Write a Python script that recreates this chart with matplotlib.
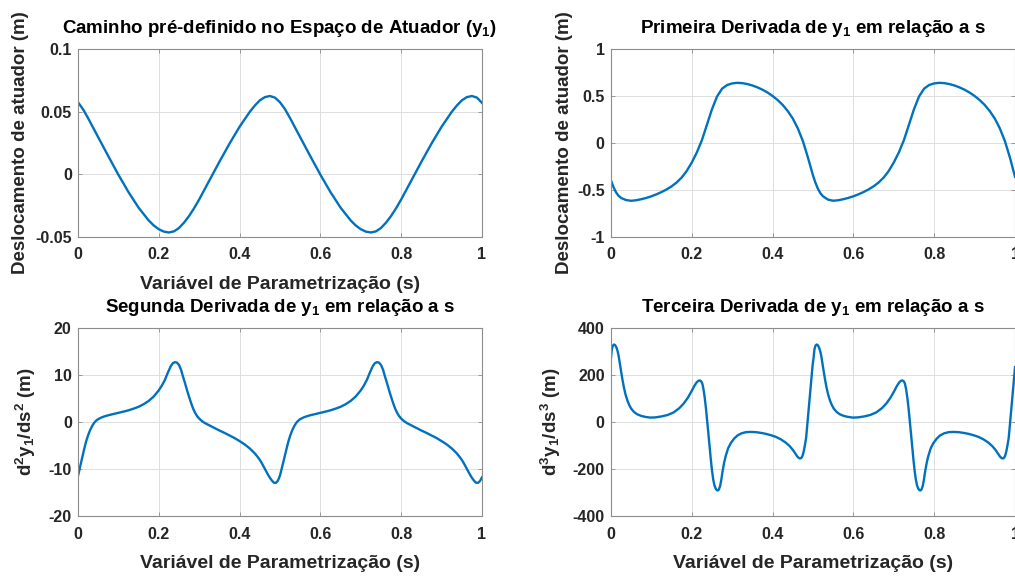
import matplotlib
matplotlib.use('Agg')
import matplotlib.pyplot as plt
from matplotlib.ticker import FormatStrFormatter


# valores (y1 e derivadas em funcao de s)
s_pos = [0, 0.0125, 0.025, 0.0375, 0.05, 0.075, 0.1, 0.125, 0.15, 0.175, 0.1875, 0.2, 0.2125,
         0.225, 0.2375, 0.25, 0.2625, 0.275, 0.2875, 0.3, 0.325, 0.35, 0.375, 0.4, 0.425, 0.4375,
         0.45, 0.4625, 0.475, 0.4875, 0.5,
         0.5125, 0.525, 0.5375, 0.55, 0.575, 0.6, 0.625, 0.65, 0.675, 0.6875, 0.7, 0.7125,
         0.725, 0.7375, 0.75, 0.7625, 0.775, 0.7875, 0.8, 0.825, 0.85, 0.875, 0.9, 0.925, 0.9375,
         0.95, 0.9625, 0.975, 0.9875, 1.0]
y_pos = [0.0575, 0.0519, 0.0448, 0.0372, 0.0296, 0.0145, -0.0003, -0.0142, -0.0266, -0.0368,
         -0.0408, -0.0438, -0.0457, -0.0464, -0.0455, -0.0428, -0.0385, -0.0332, -0.027, -0.020,
         -0.005, 0.010, 0.0245, 0.038, 0.0498, 0.0548, 0.059, 0.0616, 0.0625, 0.0612, 0.0575,
         0.0519, 0.0448, 0.0372, 0.0296, 0.0145, -0.0003, -0.0142, -0.0266, -0.0368, -0.0408,
         -0.0438, -0.0457, -0.0464, -0.0455, -0.0428, -0.0385, -0.0332, -0.027, -0.020, -0.005,
         0.010, 0.0245, 0.038, 0.0498, 0.0548, 0.059, 0.0616, 0.0625, 0.0612, 0.057]

s_vel = [0, 0.00625, 0.0125, 0.01875, 0.025, 0.0375, 0.05, 0.0625, 0.075, 0.0875, 0.1, 0.1125,
         0.125, 0.1375, 0.15, 0.1625, 0.175, 0.1875, 0.2, 0.2125, 0.225, 0.2375, 0.25, 0.2625,
         0.275, 0.2875, 0.3, 0.3125, 0.325, 0.3375, 0.35, 0.3625, 0.375, 0.3875, 0.4, 0.4125,
         0.425, 0.4375, 0.45, 0.4625, 0.475, 0.4875, 0.5,
         0.50625, 0.5125, 0.51875, 0.525, 0.5375, 0.55, 0.5625, 0.575, 0.5875, 0.6, 0.6125,
         0.625, 0.6375, 0.65, 0.6625, 0.675, 0.6875, 0.7, 0.7125, 0.725, 0.7375, 0.75, 0.7625,
         0.775, 0.7875, 0.8, 0.8125, 0.825, 0.8375, 0.85, 0.8625, 0.875, 0.8875, 0.9, 0.9125,
         0.925, 0.9375, 0.95, 0.9625, 0.975, 0.9875, 1.0]
y_vel = [-0.40, -0.47, -0.525, -0.562, -0.585, -0.607, -0.615, -0.609, -0.598, -0.584, -0.567,
         -0.546, -0.522, -0.494, -0.461, -0.42, -0.367, -0.297, -0.207, -0.10, 0.03, 0.195,
         0.36, 0.495, 0.578, 0.617, 0.634, 0.64, 0.637, 0.627, 0.612, 0.592, 0.567, 0.537,
         0.50, 0.457, 0.405, 0.34, 0.26, 0.155, 0.02, -0.155, -0.345,
         -0.425, -0.49, -0.537, -0.568, -0.603, -0.614, -0.609, -0.598, -0.584, -0.567, -0.546,
         -0.522, -0.494, -0.461, -0.42, -0.367, -0.297, -0.207, -0.10, 0.03, 0.195, 0.36, 0.495,
         0.578, 0.617, 0.634, 0.64, 0.637, 0.627, 0.612, 0.592, 0.567, 0.537, 0.50, 0.457,
         0.405, 0.34, 0.26, 0.155, 0.02, -0.155, -0.36]

s_acc = [0, 0.005, 0.01, 0.015, 0.02, 0.025, 0.03, 0.035, 0.04, 0.045, 0.05, 0.0575, 0.065,
         0.075, 0.0875, 0.1, 0.1125, 0.125, 0.1375, 0.15, 0.1625, 0.175, 0.1875, 0.2, 0.2075,
         0.215, 0.2225, 0.23, 0.235, 0.24, 0.245, 0.25, 0.255, 0.26, 0.265, 0.27, 0.275, 0.28,
         0.285, 0.29, 0.295, 0.3, 0.3075, 0.315, 0.325, 0.3375, 0.35, 0.3625, 0.375, 0.3875,
         0.4, 0.4125, 0.425, 0.4375, 0.445, 0.45, 0.455, 0.46, 0.465, 0.47, 0.475, 0.48, 0.485,
         0.49, 0.495, 0.5,
         0.505, 0.51, 0.515, 0.52, 0.525, 0.53, 0.535, 0.54, 0.545, 0.55, 0.5575, 0.565, 0.575,
         0.5875, 0.6, 0.6125, 0.625, 0.6375, 0.65, 0.6625, 0.675, 0.6875, 0.7, 0.7075, 0.715,
         0.7225, 0.73, 0.735, 0.74, 0.745, 0.75, 0.755, 0.76, 0.765, 0.77, 0.775, 0.78, 0.785,
         0.79, 0.795, 0.8, 0.8075, 0.815, 0.825, 0.8375, 0.85, 0.8625, 0.875, 0.8875, 0.9,
         0.9125, 0.925, 0.9375, 0.945, 0.95, 0.955, 0.96, 0.965, 0.97, 0.975, 0.98, 0.985, 0.99,
         0.995, 1.0]
y_acc = [-11.4, -9.5, -7.6, -5.8, -4.1, -2.75, -1.65, -0.8, -0.1, 0.35, 0.68, 1.0, 1.25, 1.5,
         1.75, 2.0, 2.27, 2.55, 2.9, 3.3, 3.85, 4.55, 5.5, 6.8, 7.8, 9.0, 10.6, 12.0, 12.6, 12.8,
         12.7, 12.2, 11.2, 9.7, 8.3, 6.8, 5.4, 4.1, 2.9, 2.0, 1.3, 0.8, 0.2, -0.2, -0.65, -1.2,
         -1.75, -2.25, -2.8, -3.35, -4.0, -4.7, -5.55, -6.6, -7.4, -8.0, -8.7, -9.5, -10.3,
         -11.1, -11.8, -12.4, -12.85, -12.9, -12.4, -11.3,
         -9.6, -7.8, -6.0, -4.3, -2.9, -1.75, -0.85, -0.15, 0.33, 0.68, 1.0, 1.25, 1.5, 1.75,
         2.0, 2.27, 2.55, 2.9, 3.3, 3.85, 4.55, 5.5, 6.8, 7.8, 9.0, 10.6, 12.0, 12.6, 12.8, 12.7,
         12.2, 11.2, 9.7, 8.3, 6.8, 5.4, 4.1, 2.9, 2.0, 1.3, 0.8, 0.2, -0.2, -0.65, -1.2, -1.75,
         -2.25, -2.8, -3.35, -4.0, -4.7, -5.55, -6.6, -7.4, -8.0, -8.7, -9.5, -10.3, -11.1,
         -11.8, -12.4, -12.85, -12.9, -12.5, -11.7]

s_jerk = [0, 0.002, 0.0045, 0.0075, 0.0105, 0.0135, 0.0165, 0.019, 0.0215, 0.0245,
          0.028, 0.032, 0.036, 0.0405, 0.045, 0.05, 0.057, 0.065, 0.075, 0.085,
          0.097, 0.11, 0.125, 0.14, 0.155, 0.169, 0.18, 0.19, 0.199, 0.206,
          0.212, 0.2165, 0.22, 0.223, 0.226, 0.229, 0.232, 0.235, 0.238, 0.241,
          0.244, 0.247, 0.25, 0.253, 0.256, 0.259, 0.262, 0.2645, 0.267, 0.27,
          0.273, 0.276, 0.28, 0.284, 0.29, 0.297, 0.305, 0.313, 0.323, 0.334,
          0.346, 0.359, 0.371, 0.383, 0.396, 0.408, 0.42, 0.433, 0.442, 0.45,
          0.456, 0.461, 0.465, 0.468, 0.471, 0.474, 0.477, 0.48, 0.483, 0.487,
          0.491, 0.495, 0.499,
          0.5015, 0.5035, 0.506, 0.509, 0.512, 0.515, 0.518, 0.5205, 0.523, 0.526,
          0.5295, 0.5335, 0.5375, 0.542, 0.5465, 0.5515, 0.5585, 0.5665, 0.5765, 0.5865,
          0.5985, 0.6115, 0.6265, 0.6415, 0.6565, 0.6705, 0.6815, 0.6915, 0.7005, 0.7075,
          0.7135, 0.718, 0.7215, 0.7245, 0.7275, 0.7305, 0.7335, 0.7365, 0.7395, 0.7425,
          0.7455, 0.7485, 0.7515, 0.7545, 0.7575, 0.7605, 0.7635, 0.766, 0.7685, 0.7715,
          0.7745, 0.7775, 0.7815, 0.7855, 0.7915, 0.7985, 0.8065, 0.8145, 0.8245, 0.8355,
          0.8475, 0.8605, 0.8725, 0.8845, 0.8975, 0.9095, 0.9215, 0.9345, 0.9435, 0.9515,
          0.9575, 0.9625, 0.9665, 0.9695, 0.9725, 0.9755, 0.9785, 0.9815, 0.9845, 0.9885,
          0.9925, 0.9965, 1.0]
y_jerk = [275, 310, 326, 331, 328, 318, 302, 282, 256, 222,
          185, 148, 118, 93, 74, 58, 44, 34, 27, 23,
          20, 21, 25, 31, 42, 60, 80, 104, 131, 154,
          170, 177, 178, 175, 165, 140, 105, 60, 8, -47,
          -103, -157, -205, -243, -268, -282, -289, -290, -286, -272,
          -245, -210, -172, -143, -110, -87, -69, -56, -47, -42,
          -41, -42, -45, -49, -55, -62, -72, -87, -101, -117,
          -132, -145, -152, -154, -152, -143, -124, -97, -66, 10,
          88, 165, 243,
          275, 310, 326, 331, 328, 318, 302, 282, 256, 222,
          185, 148, 118, 93, 74, 58, 44, 34, 27, 23,
          20, 21, 25, 31, 42, 60, 80, 104, 131, 154,
          170, 177, 178, 175, 165, 140, 105, 60, 8, -47,
          -103, -157, -205, -243, -268, -282, -289, -290, -286, -272,
          -245, -210, -172, -143, -110, -87, -69, -56, -47, -42,
          -41, -42, -45, -49, -55, -62, -72, -87, -101, -117,
          -132, -145, -152, -154, -152, -143, -124, -97, -66, 10,
          88, 165, 235]

x_ticks = [0, 0.2, 0.4, 0.6, 0.8, 1]
xlabel = 'Variável de Parametrização (s)'

plt.rcParams['font.family'] = ['Liberation Sans', 'DejaVu Sans']
plt.rcParams['font.weight'] = 'bold'
plt.rcParams['axes.unicode_minus'] = False
plt.rcParams['mathtext.fontset'] = 'custom'
plt.rcParams['mathtext.bf'] = 'Liberation Sans:bold'
plt.rcParams['mathtext.rm'] = 'Liberation Sans:bold'
plt.rcParams['mathtext.default'] = 'bf'

LINE = '#0072BD'
DARK = '#262626'
EDGE = '#8c8c8c'

fig = plt.figure(figsize=(10.15, 5.76), dpi=100)

W, H = 1015.0, 576.0
def add_axes(left, top):
    return fig.add_axes([left / W, 1 - (top + 188) / H, 404 / W, 188 / H])

panels = [
    (add_axes(78, 49), s_pos, y_pos, (-0.05, 0.1), [-0.05, 0, 0.05, 0.1],
     r'Caminho pré-definido no Espaço de Atuador (y$_1$)', 'Deslocamento de atuador (m)', -0.122),
    (add_axes(611, 49), s_vel, y_vel, (-1, 1), [-1, -0.5, 0, 0.5, 1],
     r'Primeira Derivada de y$_1$ em relação a s', 'Deslocamento de atuador (m)', -0.095),
    (add_axes(78, 328.3), s_acc, y_acc, (-20, 20), [-20, -10, 0, 10, 20],
     r'Segunda Derivada de y$_1$ em relação a s', r'd$^2$y$_1$/ds$^2$ (m)', -0.099),
    (add_axes(611, 328.3), s_jerk, y_jerk, (-400, 400), [-400, -200, 0, 200, 400],
     r'Terceira Derivada de y$_1$ em relação a s', r'd$^3$y$_1$/ds$^3$ (m)', -0.12),
]

for ax, xs, ys, ylim, yticks, title, ylabel, ylab_x in panels:
    ax.plot(xs, ys, color=LINE, linewidth=1.7)
    ax.set_xlim(0, 1)
    ax.set_ylim(*ylim)
    ax.set_xticks(x_ticks)
    ax.set_yticks(yticks)
    ax.xaxis.set_major_formatter(FormatStrFormatter('%g'))
    ax.yaxis.set_major_formatter(FormatStrFormatter('%g'))
    ax.grid(True, color='#dedede', linewidth=0.7)
    ax.set_axisbelow(True)
    ax.tick_params(direction='in', length=3, width=0.6, color=EDGE,
                   top=True, right=True, labelsize=11.5, labelcolor=DARK)
    ax.tick_params(axis='x', pad=7.5)
    ax.tick_params(axis='y', pad=4.5)
    for sp in ax.spines.values():
        sp.set_color(EDGE)
        sp.set_linewidth(0.8)
    ax.set_title(title, fontsize=13.5, fontweight='bold', color='black', pad=11.5)
    ax.set_xlabel(xlabel, fontsize=14, fontweight='bold', color=DARK, labelpad=9.5)
    ax.set_ylabel(ylabel, fontsize=13.5, fontweight='bold', color=DARK)
    ax.yaxis.set_label_coords(ylab_x, 0.5)

# no original o rotulo x do painel superior direito nao aparece
panels[1][0].set_xlabel('')

fig.savefig('out.png', dpi=100)
